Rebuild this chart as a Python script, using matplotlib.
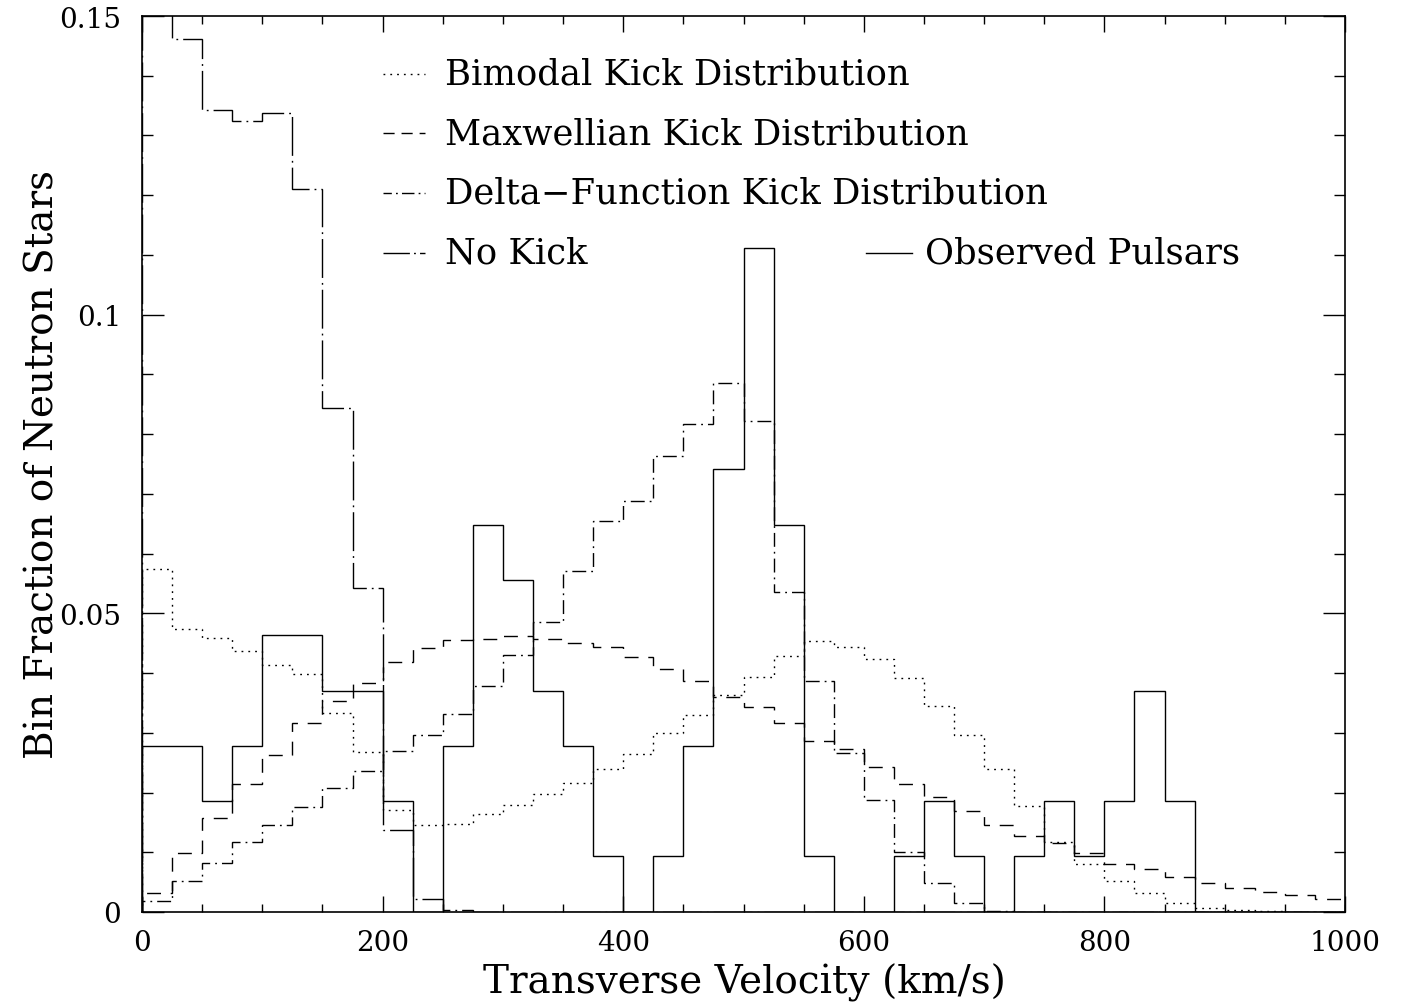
import numpy as np
import matplotlib
matplotlib.use("Agg")
import matplotlib.pyplot as plt
from matplotlib.ticker import MultipleLocator, FuncFormatter

# ---- data (bin fractions, 25 km/s bins from 0 to 1000 km/s) ----
bin_edges = np.arange(0, 1025, 25)

bimodal = [0.0574, 0.0473, 0.0459, 0.0437, 0.0413, 0.0398, 0.0333, 0.0268, 0.0171, 0.0145,
           0.0147, 0.0164, 0.0179, 0.0198, 0.0216, 0.0239, 0.0265, 0.0300, 0.0329, 0.0364,
           0.0394, 0.0428, 0.0454, 0.0443, 0.0423, 0.0392, 0.0345, 0.0297, 0.0239, 0.0178,
           0.0117, 0.0080, 0.0052, 0.0031, 0.0015, 0.0006, 0.0003, 0.0002, 0.0, 0.0]

maxwellian = [0.0031, 0.0098, 0.0157, 0.0215, 0.0263, 0.0317, 0.0354, 0.0384, 0.0418, 0.0442,
              0.0456, 0.0457, 0.0462, 0.0457, 0.0451, 0.0443, 0.0427, 0.0406, 0.0386, 0.0360,
              0.0343, 0.0317, 0.0286, 0.0273, 0.0242, 0.0214, 0.0193, 0.0169, 0.0146, 0.0128,
              0.0115, 0.0098, 0.0081, 0.0072, 0.0059, 0.0048, 0.0040, 0.0034, 0.0028, 0.0021]

delta = [0.0019, 0.0052, 0.0082, 0.0118, 0.0145, 0.0176, 0.0208, 0.0236, 0.0269, 0.0297,
         0.0332, 0.0378, 0.0431, 0.0486, 0.0571, 0.0654, 0.0688, 0.0763, 0.0817, 0.0885,
         0.0822, 0.0536, 0.0387, 0.0266, 0.0188, 0.0101, 0.0048, 0.0015, 0.0001, 0.0,
         0.0, 0.0, 0.0, 0.0, 0.0, 0.0, 0.0, 0.0, 0.0, 0.0]

no_kick = [0.158, 0.1461, 0.1342, 0.1325, 0.1338, 0.1210, 0.0844, 0.0542, 0.0137, 0.0021,
           0.0003, 0.0, 0.0, 0.0, 0.0, 0.0, 0.0, 0.0, 0.0, 0.0,
           0.0, 0.0, 0.0, 0.0, 0.0, 0.0, 0.0, 0.0, 0.0, 0.0,
           0.0, 0.0, 0.0, 0.0, 0.0, 0.0, 0.0, 0.0, 0.0, 0.0]

observed = [0.0278, 0.0278, 0.0185, 0.0278, 0.0463, 0.0463, 0.0370, 0.0370, 0.0185, 0.0,
            0.0278, 0.0648, 0.0556, 0.0370, 0.0278, 0.0093, 0.0, 0.0093, 0.0278, 0.0741,
            0.1111, 0.0648, 0.0093, 0.0, 0.0, 0.0093, 0.0185, 0.0093, 0.0, 0.0093,
            0.0185, 0.0093, 0.0185, 0.0370, 0.0185, 0.0, 0.0, 0.0, 0.0, 0.0]

labels = ["Bimodal Kick Distribution", "Maxwellian Kick Distribution",
          "Delta\u2212Function Kick Distribution", "No Kick", "Observed Pulsars"]

x_ticks = [0, 200, 400, 600, 800, 1000]
y_ticks = [0, 0.05, 0.1, 0.15]

# ---- styles ----
FONT = "DejaVu Serif"
LW = 1.0
styles = {
    "bimodal": (0, (1.3, 3.6)),
    "maxwellian": (0, (10, 7)),
    "delta": (0, (10, 3.6, 1.3, 3.6)),
    "no_kick": (0, (28, 3.6, 1.3, 3.6)),
    "observed": "solid",
}
legend_styles = dict(styles)
legend_styles["maxwellian"] = (0, (8, 5))
legend_styles["delta"] = (3, (9, 3, 1.3, 3))
legend_styles["no_kick"] = (0, (19, 3, 1.3, 3))

fig = plt.figure(figsize=(14.04, 10.04), dpi=100)
ax = fig.add_axes([142 / 1404, 1 - 913 / 1004, (1345 - 142) / 1404, (913 - 17) / 1004])

series = [bimodal, maxwellian, delta, no_kick, observed]
keys = ["bimodal", "maxwellian", "delta", "no_kick", "observed"]
for vals, key in zip(series, keys):
    ax.stairs(vals, bin_edges, baseline=0, color="black", linewidth=LW,
              linestyle=styles[key], fill=False)

ax.set_xlim(0, 1000)
ax.set_ylim(0, 0.15)

ax.xaxis.set_minor_locator(MultipleLocator(50))
ax.yaxis.set_minor_locator(MultipleLocator(0.01))
ax.set_xticks(x_ticks)
ax.set_yticks(y_ticks)
ax.yaxis.set_major_formatter(FuncFormatter(lambda v, p: "%g" % round(v, 4)))
ax.xaxis.set_major_formatter(FuncFormatter(lambda v, p: "%d" % v))

ax.tick_params(axis="both", which="both", direction="in", top=True, right=True,
               width=1.0, colors="black")
ax.tick_params(axis="x", which="major", length=11.5, labelsize=20, pad=12)
ax.tick_params(axis="x", which="minor", length=5.8)
ax.tick_params(axis="y", which="major", length=15.8, labelsize=20, pad=15)
ax.tick_params(axis="y", which="minor", length=7.9)
for lab in ax.get_xticklabels() + ax.get_yticklabels():
    lab.set_family(FONT)
for s in ax.spines.values():
    s.set_linewidth(1.2)

ax.set_xlabel("Transverse Velocity (km/s)", family=FONT, fontsize=28)
ax.set_ylabel("Bin Fraction of Neutron Stars", family=FONT, fontsize=28)
ax.xaxis.set_label_coords(0.501, -0.056)
ax.yaxis.set_label_coords(-0.067, 0.501)

# ---- legend drawn in axes coordinates ----
rows_y = [0.9353, 0.8694, 0.8025, 0.7355]
for i, key in enumerate(keys[:4]):
    ax.plot([0.2003, 0.2352], [rows_y[i], rows_y[i]], transform=ax.transAxes,
            color="black", linewidth=LW, linestyle=legend_styles[key], clip_on=False)
    ax.text(0.2519, rows_y[i], labels[i], transform=ax.transAxes, family=FONT,
            fontsize=25.5, va="center", ha="left")
ax.plot([0.6018, 0.640], [rows_y[3], rows_y[3]], transform=ax.transAxes,
        color="black", linewidth=LW, linestyle="solid")
ax.text(0.651, rows_y[3], labels[4], transform=ax.transAxes, family=FONT,
        fontsize=25.5, va="center", ha="left")

fig.savefig("out.png", dpi=100, facecolor="white")
